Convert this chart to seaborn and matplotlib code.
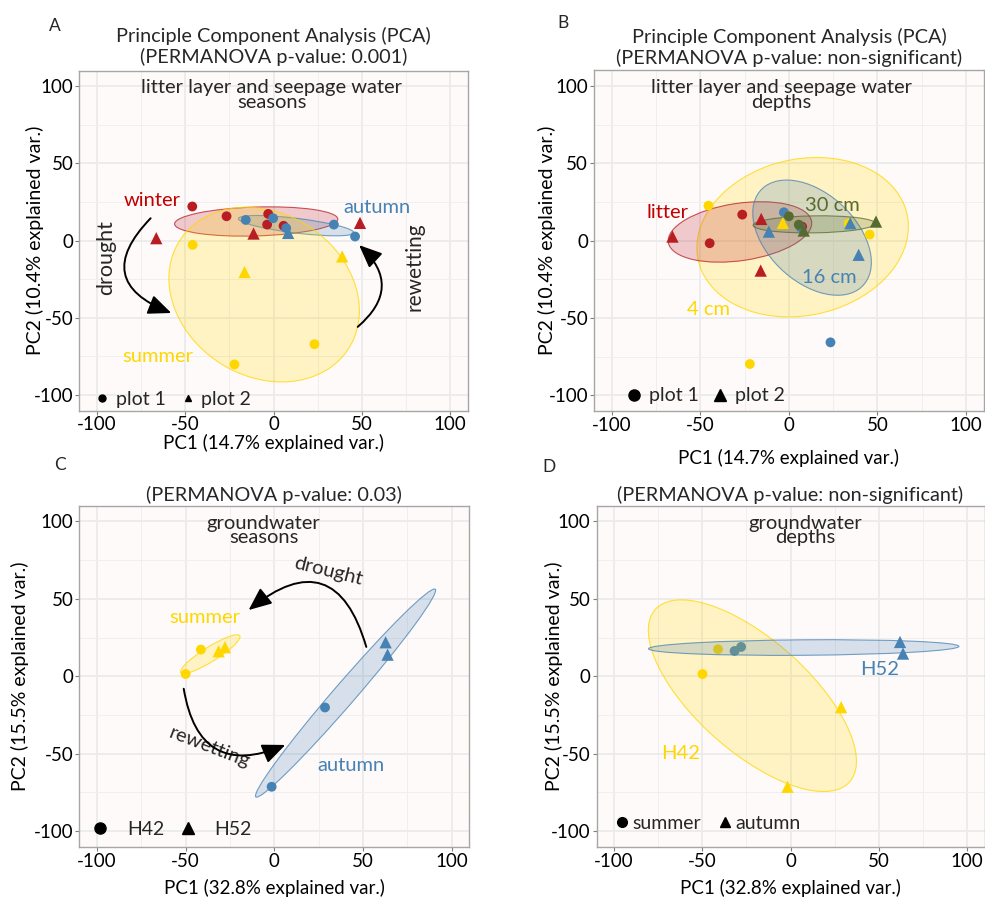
import numpy as np
import pandas as pd
import seaborn as sns
import matplotlib.pyplot as plt
from matplotlib.patches import Ellipse
from matplotlib.lines import Line2D

sns.set_theme(style="whitegrid")
plt.rcParams['font.family'] = ['Lato', 'DejaVu Sans']
plt.rcParams['axes.unicode_minus'] = False

RED = "#B81D24"
BLUE = "#4682B4"
GOLD = "#FFD700"
GREEN = "#556B2F"

# ---- panel A: litter layer + seepage water, by season
a_pc1 = [-46, -26.6, -3, -3.6, 5.7, -66.4, -11.3, 49,
         -15.7, -0.2, 7.2, 34.2, 46.2, 8.3,
         -45.8, 23.2, -22.1, -16.4, 38.9]
a_pc2 = [22, 15.7, 17.2, 10.3, 9.5, 1.5, 4.5, 11.4,
         13.3, 14.4, 8.0, 10.3, 2.6, 4.9,
         -2.8, -67.1, -80.2, -20.4, -10.3]
a_group = ["winter", "winter", "winter", "winter", "winter", "winter", "winter", "winter",
           "autumn", "autumn", "autumn", "autumn", "autumn", "autumn",
           "summer", "summer", "summer", "summer", "summer"]
a_shape = ["plot 1", "plot 1", "plot 1", "plot 1", "plot 1", "plot 2", "plot 2", "plot 2",
           "plot 1", "plot 1", "plot 1", "plot 1", "plot 1", "plot 2",
           "plot 1", "plot 1", "plot 1", "plot 2", "plot 2"]
a_ell_group = ["winter", "autumn", "summer"]
a_ell_x = [-9.8, 12.8, -5.3]
a_ell_y = [12.3, 9.6, -35]
a_ell_w = [92.5, 66, 120.6]
a_ell_h = [18.7, 9.5, 99.4]
a_ell_angle = [2, -8, -52]

# ---- panel B: litter layer + seepage water, by depth
b_pc1 = [-26.3, -44.7, 7.5, -65.7, -15.6, -15.9,
         -45.4, 45.6, -22, 33.8, -3.4,
         -2.8, 23.5, 6.6, -11.3, 34.7, 39.4,
         0, 5.6, 8.4, 49.2]
b_pc2 = [16.8, -1.7, 9.0, 2.6, 14.0, -19.4,
         22.6, 3.9, -79.8, 11.2, 11.4,
         18.3, -65.8, 8.6, 5.8, 11.2, -9.2,
         15.7, 10.3, 6.5, 12.3]
b_group = ["litter", "litter", "litter", "litter", "litter", "litter",
           "4 cm", "4 cm", "4 cm", "4 cm", "4 cm",
           "16 cm", "16 cm", "16 cm", "16 cm", "16 cm", "16 cm",
           "30 cm", "30 cm", "30 cm", "30 cm"]
b_shape = ["plot 1", "plot 1", "plot 1", "plot 2", "plot 2", "plot 2",
           "plot 1", "plot 1", "plot 1", "plot 1", "plot 2",
           "plot 1", "plot 1", "plot 1", "plot 2", "plot 2", "plot 2",
           "plot 1", "plot 1", "plot 2", "plot 2"]
b_ell_group = ["4 cm", "litter", "16 cm", "30 cm"]
b_ell_x = [7.8, -27.6, 13.1, 14.3]
b_ell_y = [2.2, 5.6, 1.9, 10.5]
b_ell_w = [122, 82, 85, 69]
b_ell_h = [100, 37, 53, 11]
b_ell_angle = [21, 10, -52, 1]

# ---- panel C: groundwater, by season
c_pc1 = [-41.4, -50, -31.4, -27.8, 28.6, -1.5, 62.8, 63.9]
c_pc2 = [17.3, 1.5, 16.2, 18.8, -20.1, -71.3, 22.0, 14.0]
c_group = ["summer", "summer", "summer", "summer", "autumn", "autumn", "autumn", "autumn"]
c_shape = ["H42", "H42", "H52", "H52", "H42", "H42", "H52", "H52"]
c_ell_group = ["summer", "autumn"]
c_ell_x = [-36.1, 40.2]
c_ell_y = [14.3, -10.8]
c_ell_w = [41, 168]
c_ell_h = [9, 13]
c_ell_angle = [36, 53]

# ---- panel D: groundwater, by depth
d_pc1 = [-41.1, -49.9, 28.7, -1.7, -31.7, -28, 62.1, 63.8]
d_pc2 = [17.5, 1.5, -19.9, -71.3, 16.4, 19, 22.2, 14.7]
d_group = ["H42", "H42", "H42", "H42", "H52", "H52", "H52", "H52"]
d_shape = ["summer", "summer", "autumn", "autumn", "summer", "summer", "autumn", "autumn"]
d_ell_group = ["H42", "H52"]
d_ell_x = [-21.6, 7.5]
d_ell_y = [-12.5, 18.6]
d_ell_w = [157, 176]
d_ell_h = [68, 10]
d_ell_angle = [-47, 0.5]

ticks = [-100, -50, 0, 50, 100]
minor_ticks = [-75, -25, 25, 75]

W, H = 985, 900
fig = plt.figure(figsize=(W / 100, H / 100), dpi=100, facecolor="white")


def rect(l, r, t, b):
    return [l / W, 1 - b / H, (r - l) / W, (b - t) / H]


def pca_panel(ax, pc1, pc2, group, shape, palette, markers, ell, ell_top=False):
    df = pd.DataFrame({"pc1": pc1, "pc2": pc2, "group": group, "shape": shape})
    circle, tri = list(markers)
    sns.scatterplot(data=df, x="pc1", y="pc2", hue="group", style="shape", size="shape",
                    palette=palette, markers=markers, sizes={circle: 50, tri: 78},
                    linewidth=0, legend=False, ax=ax, zorder=3)
    z = 4 if ell_top else 2
    for g, cx, cy, w, h, ang in zip(*ell):
        c = palette[g]
        ax.add_patch(Ellipse((cx, cy), w, h, angle=ang, facecolor=c, alpha=0.22,
                             edgecolor="none", zorder=z))
        ax.add_patch(Ellipse((cx, cy), w, h, angle=ang, facecolor="none",
                             edgecolor=c, alpha=0.75, lw=0.8, zorder=z))
    ax.set_xlim(-110, 110)
    ax.set_ylim(-110, 110)
    ax.set_xticks(ticks)
    ax.set_yticks(ticks)
    ax.set_xticks(minor_ticks, minor=True)
    ax.set_yticks(minor_ticks, minor=True)
    ax.set_facecolor("#FFFAFA")
    ax.grid(which="major", color="#EBEBEB", lw=1.3)
    ax.grid(which="minor", color="#F0EEEE", lw=0.7)
    ax.set_axisbelow(True)
    for sp in ax.spines.values():
        sp.set_color("#A6A6A6")
        sp.set_linewidth(1)
    ax.tick_params(which="major", bottom=True, left=True, length=3, width=0.8,
                   color="#7F7F7F", labelsize=13.5, pad=1.2, labelcolor="black")
    ax.tick_params(which="minor", length=0)


def set_labels(ax, xlab, ylab, left, right, top, bottom, xlab_y, ylab_x):
    ax.set_xlabel(xlab, fontsize=13.5, color="black")
    ax.set_ylabel(ylab, fontsize=14, color="black")
    ax.xaxis.label.set_va("center")
    ax.yaxis.label.set_va("center")
    ax.xaxis.set_label_coords(0.5, -(xlab_y - bottom) / (bottom - top))
    ax.yaxis.set_label_coords((ylab_x - left) / (right - left), 0.5)


def point_legend(ax, labels, msize, mx, my, textpad, colspace, width_px):
    fs = 14
    hl = 0.8
    handles = [Line2D([], [], marker="o", ls="", color="black", markersize=msize, label=labels[0]),
               Line2D([], [], marker="^", ls="", color="black", markersize=msize, label=labels[1])]
    fx = (mx + 110) / 220 - 0.5 * hl * fs * 100 / 72 / width_px
    fy = (my + 110) / 220
    ax.legend(handles=handles, loc="center left", bbox_to_anchor=(fx, fy), ncol=2,
              frameon=False, fontsize=fs, handlelength=hl, handletextpad=textpad,
              columnspacing=colspace, borderpad=0, borderaxespad=0)


def curved_arrow(ax, start, end, rad):
    ax.annotate("", xy=end, xytext=start, zorder=5,
                arrowprops=dict(arrowstyle="-|>,head_length=0.7,head_width=0.3",
                                connectionstyle=f"arc3,rad={rad}", color="black",
                                lw=1.4, mutation_scale=20, shrinkA=0, shrinkB=0))


# ---------------- A
A = (79.3, 467.7, 70.5, 410.5)
axA = fig.add_axes(rect(*A))
pal_a = {"winter": RED, "autumn": BLUE, "summer": GOLD}
pca_panel(axA, a_pc1, a_pc2, a_group, a_shape, pal_a, {"plot 1": "o", "plot 2": "^"},
          (a_ell_group, a_ell_x, a_ell_y, a_ell_w, a_ell_h, a_ell_angle))
set_labels(axA, "PC1 (14.7% explained var.)", "PC2 (10.4% explained var.)", *A, 443, 35)
axA.text(-1, 104.5, "litter layer and seepage water\nseasons", ha="center", va="top",
         fontsize=14.5, linespacing=0.85)
axA.text(-68.7, 25.8, "winter", color="#C00000", fontsize=14.5, ha="center", va="center")
axA.text(58.7, 21.5, "autumn", color=BLUE, fontsize=14.5, ha="center", va="center")
axA.text(-65.8, -74.8, "summer", color=GOLD, fontsize=14.5, ha="center", va="center")
axA.text(-95, -10.8, "drought", rotation=90, fontsize=15.5, ha="center", va="center")
axA.text(79.8, -16.8, "rewetting", rotation=90, fontsize=15, ha="center", va="center")
curved_arrow(axA, (-69.6, 14.4), (-57.9, -46.9), 0.75)
curved_arrow(axA, (47.7, -55.9), (48.5, -3.0), 0.56)
point_legend(axA, ["plot 1", "plot 2"], 5, -97, -102.8, 0.29, 0.73, A[1] - A[0])

# ---------------- B
B = (594, 983.7, 70.5, 410.7)
axB = fig.add_axes(rect(*B))
pal_b = {"litter": RED, "4 cm": GOLD, "16 cm": BLUE, "30 cm": GREEN}
pca_panel(axB, b_pc1, b_pc2, b_group, b_shape, pal_b, {"plot 1": "o", "plot 2": "^"},
          (b_ell_group, b_ell_x, b_ell_y, b_ell_w, b_ell_h, b_ell_angle))
set_labels(axB, "PC1 (14.7% explained var.)", "PC2 (10.4% explained var.)", *B, 458, 547)
axB.text(-4.3, 104.5, "litter layer and seepage water\ndepths", ha="center", va="top",
         fontsize=14.5, linespacing=0.85)
axB.text(-68.5, 18.3, "litter", color="#C00000", fontsize=14.5, ha="center", va="center")
axB.text(24.4, 22.6, "30 cm", color=GREEN, fontsize=14.5, ha="center", va="center")
axB.text(23.1, -24.1, "16 cm", color=BLUE, fontsize=14.5, ha="center", va="center")
axB.text(-45.6, -44.5, "4 cm", color=GOLD, fontsize=14.5, ha="center", va="center")
point_legend(axB, ["plot 1", "plot 2"], 8, -87.6, -100.4, 0.37, 0.73, B[1] - B[0])

# ---------------- C
C = (79.3, 469.3, 506, 846.7)
axC = fig.add_axes(rect(*C))
pal_c = {"summer": GOLD, "autumn": BLUE}
pca_panel(axC, c_pc1, c_pc2, c_group, c_shape, pal_c, {"H42": "o", "H52": "^"},
          (c_ell_group, c_ell_x, c_ell_y, c_ell_w, c_ell_h, c_ell_angle))
set_labels(axC, "PC1 (32.8% explained var.)", "PC2 (15.5% explained var.)", *C, 888, 20)
axC.text(-6, 104.5, "groundwater\nseasons", ha="center", va="top", fontsize=14.5, linespacing=0.85)
axC.text(-39.5, 38, "summer", color=GOLD, fontsize=14.5, ha="center", va="center")
axC.text(43.4, -57.7, "autumn", color=BLUE, fontsize=14.5, ha="center", va="center")
axC.text(30.3, 67.6, "drought", rotation=-14, fontsize=14.5, ha="center", va="center")
axC.text(-36.5, -45.8, "rewetting", rotation=-21, fontsize=14.5, ha="center", va="center")
curved_arrow(axC, (51.9, 19.0), (-14.5, 42.8), 0.75)
curved_arrow(axC, (-51.1, -8.0), (6.2, -44.3), 0.63)
point_legend(axC, ["H42", "H52"], 8, -98.1, -98.7, 0.97, 0.8, C[1] - C[0])

# ---------------- D
D = (596.5, 984.5, 506, 846.7)
axD = fig.add_axes(rect(*D))
pal_d = {"H42": GOLD, "H52": BLUE}
pca_panel(axD, d_pc1, d_pc2, d_group, d_shape, pal_d, {"summer": "o", "autumn": "^"},
          (d_ell_group, d_ell_x, d_ell_y, d_ell_w, d_ell_h, d_ell_angle), ell_top=True)
set_labels(axD, "PC1 (32.8% explained var.)", "PC2 (15.5% explained var.)", *D, 888, 554)
axD.text(8.5, 104.5, "groundwater\ndepths", ha="center", va="top", fontsize=14.5, linespacing=0.85)
axD.text(50.3, 4.3, "H52", color=BLUE, fontsize=14.5, ha="center", va="center")
axD.text(-62.3, -50.1, "H42", color=GOLD, fontsize=14.5, ha="center", va="center")
point_legend(axD, ["summer", "autumn"], 7, -95.7, -95, 0.16, 0.8, D[1] - D[0])

# ---------------- titles and panel letters
def ftext(x, y, s, **kw):
    fig.text(x / W, 1 - y / H, s, ha="center", va="center", **kw)


ftext(273.5, 36, "Principle Component Analysis (PCA)", fontsize=14.3)
ftext(273.5, 57, "(PERMANOVA p-value: 0.001)", fontsize=14.3)
ftext(789, 37, "Principle Component Analysis (PCA)", fontsize=14.3)
ftext(789, 58, "(PERMANOVA p-value: non-significant)", fontsize=14.3)
ftext(274, 495, "(PERMANOVA p-value: 0.03)", fontsize=14.3)
ftext(790, 495, "(PERMANOVA p-value: non-significant)", fontsize=14.3)
ftext(55, 26, "A", fontsize=12.5)
ftext(563, 23, "B", fontsize=12.5)
ftext(60, 465, "C", fontsize=12.5)
ftext(549, 467, "D", fontsize=12.5)

fig.savefig("out.png", dpi=100, facecolor="white")
